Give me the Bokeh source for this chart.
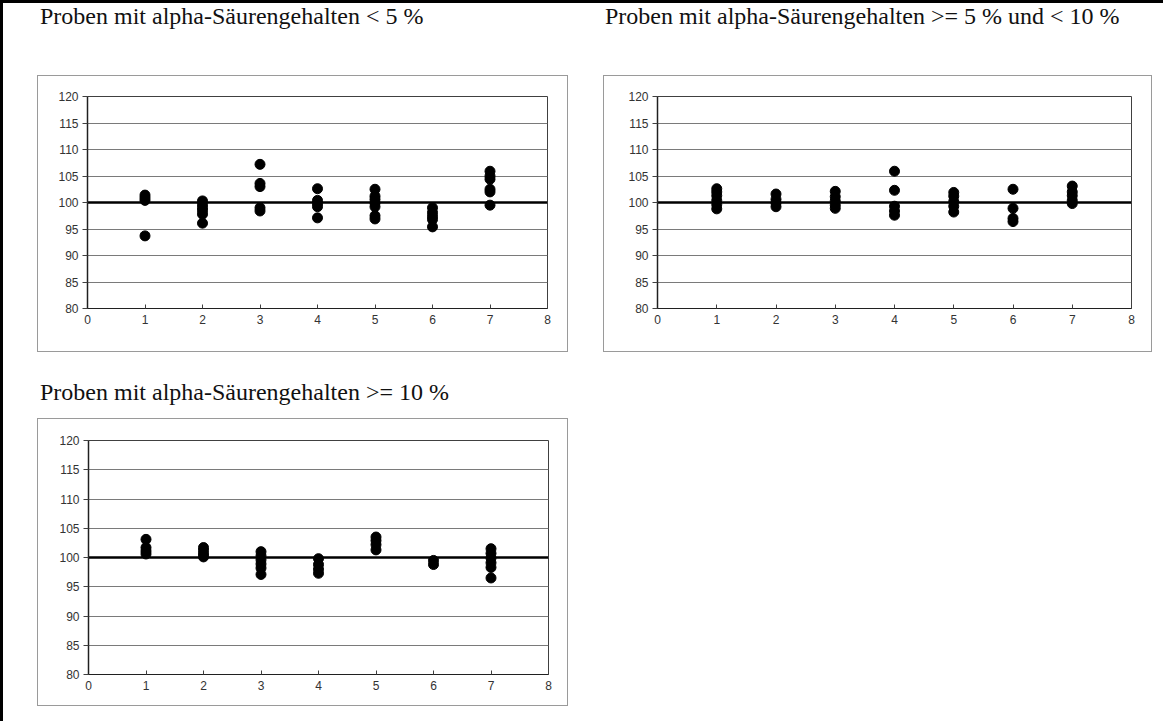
from bokeh.plotting import figure
from bokeh.layouts import column, row
from bokeh.models import Div, Spacer, FixedTicker, Range1d
from bokeh.embed import file_html
from bokeh.resources import INLINE

# ---------------- data ----------------
groups = [1, 2, 3, 4, 5, 6, 7]
x_ticks = [0, 1, 2, 3, 4, 5, 6, 7, 8]
y_ticks = [80, 85, 90, 95, 100, 105, 110, 115, 120]
reference_x = [0, 8]
reference_y = [100, 100]

title_lt5 = "Proben mit alpha-Säurengehalten < 5 %"
title_5_10 = "Proben mit alpha-Säurengehalten >= 5 % und < 10 %"
title_ge10 = "Proben mit alpha-Säurengehalten >= 10 %"

lt5 = [
    [101.4, 100.9, 100.4, 93.7],
    [100.3, 99.6, 99.0, 98.5, 97.8, 96.1],
    [107.2, 103.6, 103.0, 99.0, 98.4],
    [102.6, 100.4, 99.8, 99.2, 97.1],
    [102.5, 101.2, 100.6, 99.9, 99.2, 97.5, 96.9],
    [99.0, 98.1, 97.4, 96.8, 95.4],
    [105.9, 105.0, 104.4, 102.5, 102.0, 99.5],
]
b5_10 = [
    [102.6, 102.0, 101.3, 100.4, 99.6, 98.8],
    [101.6, 100.6, 99.9, 99.2],
    [102.1, 101.1, 100.3, 99.5, 98.9],
    [105.9, 102.3, 99.3, 98.4, 97.6],
    [101.9, 101.2, 100.2, 99.3, 98.2],
    [102.5, 98.9, 97.0, 96.4],
    [103.1, 102.0, 101.3, 100.4, 99.8],
]
ge10 = [
    [103.1, 101.7, 101.1, 100.6],
    [101.7, 101.2, 100.6, 100.1],
    [101.0, 100.3, 99.6, 98.9, 98.2, 97.1],
    [99.8, 98.8, 98.0, 97.3],
    [103.5, 102.9, 102.2, 101.3],
    [99.5, 98.8],
    [101.5, 100.7, 99.9, 99.1, 98.3, 96.5],
]


def flatten(vals):
    xs, ys = [], []
    for g, v in zip(groups, vals):
        for y in v:
            xs.append(g)
            ys.append(y)
    return xs, ys


def panel(vals, w, h, left, right, top, bottom):
    p = figure(width=w, height=h, output_backend="svg", toolbar_location=None,
               title=None,
               x_range=Range1d(0, 8), y_range=Range1d(80, 120),
               min_border_left=left, min_border_right=right,
               min_border_top=top, min_border_bottom=bottom,
               background_fill_color="white", border_fill_color="white",
               styles={"border": "1px solid #9a9a9a"})
    p.outline_line_color = "#404040"
    p.outline_line_width = 1
    p.xgrid.visible = False
    p.ygrid.ticker = FixedTicker(ticks=y_ticks)
    p.ygrid.grid_line_color = "#7a7a7a"
    p.ygrid.grid_line_width = 1
    for ax, ticks in ((p.xaxis, x_ticks), (p.yaxis, y_ticks)):
        ax.ticker = FixedTicker(ticks=ticks)
        ax.major_label_text_font = "Liberation Sans"
        ax.major_label_text_font_size = "12px"
        ax.major_label_text_color = "#333333"
        ax.minor_tick_line_color = None
        ax.axis_line_color = "#202020"
        ax.major_tick_line_color = "#404040"
    p.yaxis.axis_line_width = 1.5
    p.yaxis.major_tick_in = 0
    p.yaxis.major_tick_out = 5
    p.yaxis.major_label_standoff = 4
    p.xaxis.major_tick_in = 4
    p.xaxis.major_tick_out = 0
    p.xaxis.major_label_standoff = 6
    p.line(reference_x, reference_y, line_color="black", line_width=2.5)
    xs, ys = flatten(vals)
    p.scatter(xs, ys, size=10, color="black")
    return p


def title_div(text, w, h):
    return Div(text=text.replace("<", "&lt;").replace(">", "&gt;"), width=w, height=h,
               margin=0,
               styles={"font-family": "'Liberation Serif', 'Times New Roman', serif",
                       "font-size": "24px", "line-height": "27px",
                       "color": "#111111", "white-space": "nowrap"})


def bar(w, h):
    return Div(text="", width=w, height=h, margin=0,
               styles={"background-color": "black"})


p1 = panel(lt5, 531, 277, 49, 22, 15, 45)
p2 = panel(b5_10, 549, 277, 53, 22, 20, 41)
p3 = panel(ge10, 531, 288, 50, 21, 21, 33)

content = column(
    row(Spacer(width=37, height=72), title_div(title_lt5, 565, 72), title_div(title_5_10, 555, 72)),
    row(Spacer(width=34, height=277), p1, Spacer(width=35, height=277), p2),
    Spacer(width=10, height=27),
    row(Spacer(width=37, height=39), title_div(title_ge10, 560, 39)),
    row(Spacer(width=34, height=288), p3),
)

root = column(
    bar(1163, 3),
    row(bar(3, 718), content),
)

open("out.html", "w").write(file_html(root, INLINE))
